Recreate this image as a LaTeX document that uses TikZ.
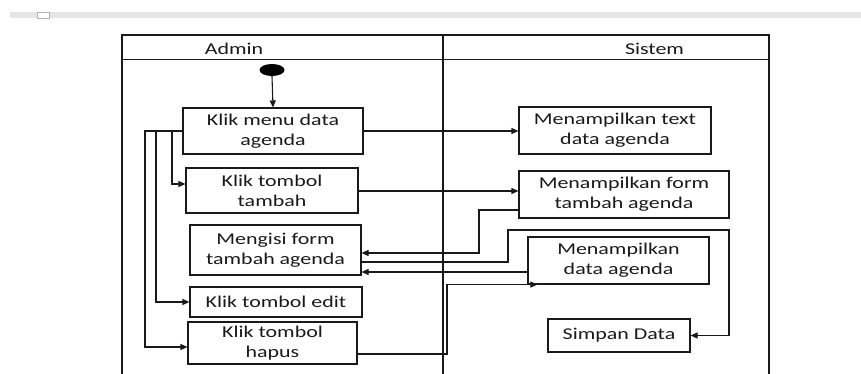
\documentclass[tikz,border=0pt]{standalone}
\usepackage{fontspec}
\setmainfont{Carlito}[FakeStretch=1.33]
\usetikzlibrary{shapes.geometric,arrows.meta}
\begin{document}
\begin{tikzpicture}[x=1pt,y=-1pt,
  lane/.style={line width=1.1pt,draw=black!90},
  actbox/.style={draw=black!90,line width=1.1pt,rectangle,inner sep=0pt,align=center,
     font=\fontsize{16.5}{20}\selectfont,text=black!90},
  lbl/.style={font=\fontsize{16.5}{20}\selectfont,text=black!90,inner sep=0pt},
  arr/.style={line width=1.1pt,draw=black!90,-{Triangle[length=7pt,width=6pt]}}]
\useasboundingbox (0,0) rectangle (861,374);
% top bar
\fill[black!10] (10,12) rectangle (861,18);
\draw[black!30,fill=white,line width=0.6pt] (37,12) rectangle (49,18);
% swimlanes
\draw[lane] (122,374) -- (122,35) -- (769,35) -- (769,374);
\draw[lane] (122,59.5) -- (769,59.5);
\draw[lane] (443,35) -- (443,374);
\node[lbl] (hadmin) at (234,49) {Admin};
\node[lbl] (hsistem) at (654.5,49) {Sistem};
% nodes
\node[ellipse,fill=black,minimum width=25pt,minimum height=12pt,inner sep=0pt] (start) at (272,70) {};
\node[actbox,minimum width=180pt,minimum height=46pt] (b1) at (273,131) {Klik menu data\\agenda};
\node[actbox,minimum width=172pt,minimum height=45pt] (b2) at (272,190.5) {Klik tombol\\tambah};
\node[actbox,minimum width=171pt,minimum height=50pt] (b3) at (275.5,250) {Mengisi form\\tambah agenda};
\node[actbox,minimum width=172pt,minimum height=30pt] (b4) at (276,302) {Klik tombol edit};
\node[actbox,minimum width=169pt,minimum height=42pt] (b5) at (272.5,343) {Klik tombol\\hapus};
\node[actbox,minimum width=192pt,minimum height=47pt] (s1) at (615,130.5) {Menampilkan text\\data agenda};
\node[actbox,minimum width=210pt,minimum height=47pt] (s2) at (624,194.5) {Menampilkan form\\tambah agenda};
\node[actbox,minimum width=181pt,minimum height=47pt] (s3) at (618.5,260.5) {Menampilkan\\data agenda};
\node[actbox,minimum width=142pt,minimum height=33pt] (s4) at (619,335.5) {Simpan Data};
% bend coordinates
\coordinate (xa) at (145,0);
\coordinate (xb) at (156,0);
\coordinate (xc) at (172,0);
\coordinate (xd) at (479,0);
\coordinate (xe) at (508,0);
\coordinate (xf) at (729,0);
\coordinate (xg) at (447,0);
\coordinate (ya) at (0,230);
% connectors
\draw[arr] (start.south) -- (b1.north);
\draw[arr] (b1.east) -- (b1.east -| s1.west);
\draw[arr] ([yshift=-0.5pt]b2.east) -- ([yshift=-0.5pt]b2.east -| s2.west);
\draw[arr] (b1.west) -- (b1.west -| xc) |- ([yshift=6.5pt]b2.west);
\draw[arr] (b1.west -| xc) -- (b1.west -| xb) |- (b4.west);
\draw[arr] (b1.west -| xb) -- (b1.west -| xa) |- ([yshift=-4pt]b5.west);
\draw[arr] ([yshift=-15.5pt]s2.west) -- ([yshift=-15.5pt]s2.west -| xd) |- ([yshift=-3pt]b3.east);
\draw[arr] ([yshift=-12pt]b3.east) -- ([yshift=-12pt]b3.east -| xe) |- (xf |- ya) |- (s4.east);
\draw[arr] ([yshift=-11.5pt]s3.west) -- ([yshift=-11.5pt]s3.west -| b3.east);
\draw[arr] ([yshift=-11pt]b5.east) -- ([yshift=-11pt]b5.east -| xg) |- ([xshift=10pt]s3.south west);
\end{tikzpicture}
\end{document}
